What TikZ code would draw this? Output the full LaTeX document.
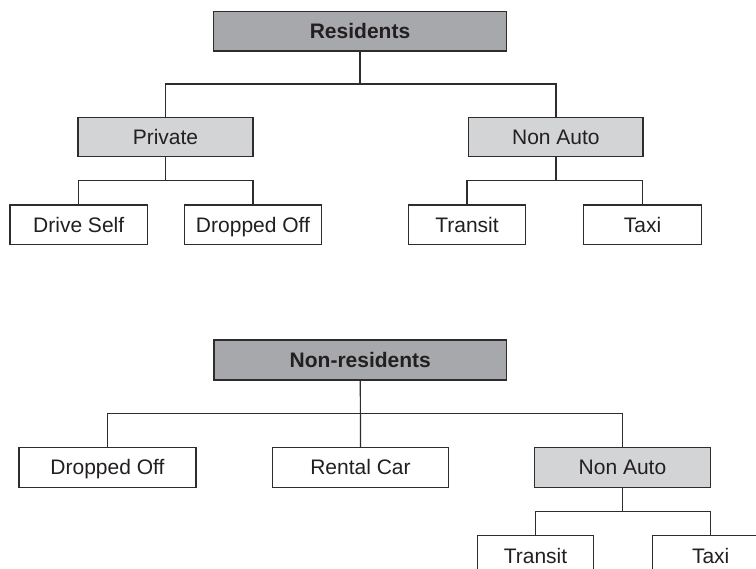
\documentclass[tikz,border=0pt]{standalone}
\usepackage{fontspec}
\setmainfont{Liberation Sans}
\usetikzlibrary{calc}
\definecolor{inkline}{HTML}{2E2C2D}
\definecolor{inktext}{HTML}{231F20}
\definecolor{rootfill}{HTML}{A7A8AB}
\definecolor{midfill}{HTML}{D3D4D6}
\tikzset{
  box/.style={draw=inkline, line width=1.2pt, inner sep=0pt, minimum height=39.5pt,
              text height=15pt, text depth=0pt,
              text=inktext, font=\fontsize{21}{24}\selectfont},
  rootbox/.style={box, fill=rootfill, minimum width=292.5pt, font=\fontsize{21}{24}\selectfont\bfseries},
  midbox/.style={box, fill=midfill},
  leafbox/.style={box, fill=white},
  link/.style={draw=inkline, line width=1.2pt}
}
\begin{document}
\begin{tikzpicture}[x=1pt, y=-1pt]
  \useasboundingbox (0,0) rectangle (756,569);
  \clip (0,0) rectangle (756,569);
  \fill[white] (0,0) rectangle (756,569);

  % Residents tree
  \node[rootbox] (res) at (360,31.2) {Residents};
  \node[midbox, minimum width=175pt] (priv) at (165.5,137) {Private};
  \node[midbox, minimum width=174.3pt] (rna) at (555.9,137) {Non Auto};
  \node[leafbox, minimum width=137.3pt] (drive) at (78.7,224.7) {Drive Self};
  \node[leafbox, minimum width=137.3pt] (rdrop) at (253,224.7) {Dropped Off};
  \node[leafbox, minimum width=116.7pt] (rtransit) at (467,224.7) {Transit};
  \node[leafbox, minimum width=117.6pt] (rtaxi) at (642.5,224.7) {Taxi};

  \coordinate (b1) at ($(res.south)!0.5!(res.south|-priv.north)$);
  \draw[link] (res.south) -- (b1);
  \draw[link] (priv.north) |- (b1) -| (rna.north);
  \coordinate (b2) at ($(priv.south)!0.5!(priv.south|-drive.north)$);
  \draw[link] (priv.south) -- (b2);
  \draw[link] (drive.north) |- (b2) -| (rdrop.north);
  \coordinate (b3) at ($(rna.south)!0.5!(rna.south|-rtransit.north)$);
  \draw[link] (rna.south) -- (b3);
  \draw[link] (rtransit.north) |- (b3) -| (rtaxi.north);

  % Non-residents tree
  \node[rootbox, minimum height=40pt] (non) at (360.3,360) {Non-residents};
  \node[leafbox, minimum width=177pt] (ndrop) at (107.5,467.5) {Dropped Off};
  \node[leafbox, minimum width=176pt] (rental) at (360.5,467.5) {Rental Car};
  \node[midbox, minimum width=176.4pt] (nna) at (622.5,467.5) {Non Auto};
  \node[leafbox, minimum width=116.3pt] (ntransit) at (535.5,555.5) {Transit};
  \node[leafbox, minimum width=117pt] (ntaxi) at (710.7,555.5) {Taxi};

  \coordinate (b4) at ($(non.south)!0.5!(non.south|-rental.north)$);
  \draw[link] (non.south) -- (rental.north);
  \draw[link] (ndrop.north) |- (b4) -| (nna.north);
  \coordinate (b5) at ($(nna.south)!0.5!(nna.south|-ntransit.north)$);
  \draw[link] (nna.south) -- (b5);
  \draw[link] (ntransit.north) |- (b5) -| (ntaxi.north);
\end{tikzpicture}
\end{document}
